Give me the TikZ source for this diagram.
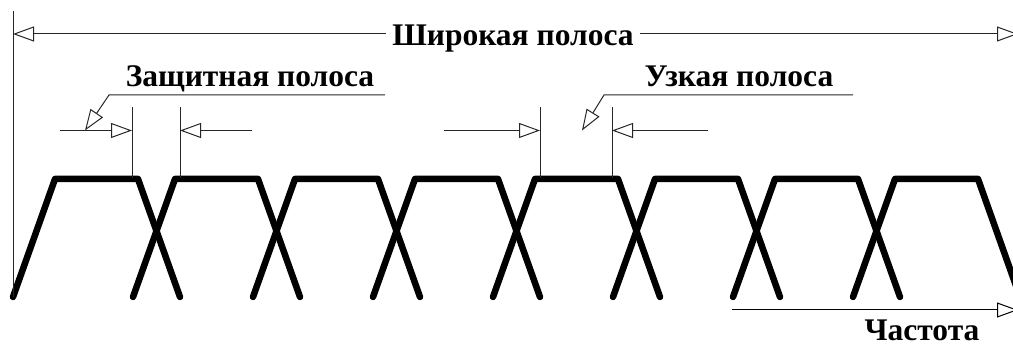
\documentclass[tikz,border=0pt]{standalone}
\usepackage{fontspec}
\setmainfont{Liberation Serif}
\usetikzlibrary{arrows.meta}
\tikzset{
  thin line/.style={line width=1pt, draw=black!85},
  dim/.style={thin line, -{Triangle[open, length=21pt, width=15pt, line width=1pt]}},
  dimboth/.style={thin line, {Triangle[open, length=21pt, width=15pt, line width=1pt]}-{Triangle[open, length=21pt, width=15pt, line width=1pt]}},
  trap/.style={line width=6.5pt, line cap=round, line join=round, draw=black},
  lbl/.style={font=\fontsize{31.5}{35}\selectfont\bfseries, inner sep=0pt, anchor=base},
}
\begin{document}
\begin{tikzpicture}[x=1pt, y=-1pt]
\useasboundingbox (0,0) rectangle (1013,347);
\clip (0,0) rectangle (1013,347);
% trapezoids
\foreach \i in {0,...,7} {
  \draw[trap] (13+120*\i,297) -- (55+120*\i,179) -- (138+120*\i,179) -- (180+120*\i,297);
}
% wide band
\coordinate (wl) at (13,34);
\coordinate (wr) at (1018,34);
\coordinate (vt) at (13,11);
\coordinate (vb) at (13,297);
\draw[thin line] (vt) -- (vb);
\draw[dimboth] (wl) -- (wr);
\node[lbl, fill=white, inner xsep=6pt, inner ysep=3pt] (wide) at (513,46) {Широкая полоса};
% guard band
\coordinate (g1t) at (132,107); \coordinate (g1b) at (132,178);
\coordinate (g2t) at (180,107); \coordinate (g2b) at (180,178);
\draw[thin line] (g1t) -- (g1b);
\draw[thin line] (g2t) -- (g2b);
\coordinate (g1a) at (60,130.5); \coordinate (g1e) at (132,130.5);
\coordinate (g2a) at (252,130.5); \coordinate (g2e) at (180,130.5);
\draw[dim] (g1a) -- (g1e);
\draw[dim] (g2a) -- (g2e);
\node[lbl] (guard) at (250,87) {Защитная полоса};
\coordinate (gu1) at (385,95); \coordinate (gu2) at (109,95); \coordinate (gtip) at (85,130.5);
\draw[dim] (gu1) -- (gu2) -- (gtip);
% narrow band
\coordinate (n1t) at (540,107); \coordinate (n1b) at (540,178);
\coordinate (n2t) at (612,107); \coordinate (n2b) at (612,178);
\draw[thin line] (n1t) -- (n1b);
\draw[thin line] (n2t) -- (n2b);
\coordinate (n1a) at (444,130.5); \coordinate (n1e) at (540,130.5);
\coordinate (n2a) at (708,130.5); \coordinate (n2e) at (612,130.5);
\draw[dim] (n1a) -- (n1e);
\draw[dim] (n2a) -- (n2e);
\node[lbl] (narrow) at (739,87) {Узкая полоса};
\coordinate (nu1) at (853,95); \coordinate (nu2) at (604,95); \coordinate (ntip) at (582,130.5);
\draw[dim] (nu1) -- (nu2) -- (ntip);
% frequency axis
\coordinate (fa) at (732,310); \coordinate (fb) at (1018,310);
\draw[dim, draw=black] (fa) -- (fb);
\node[lbl] (freq) at (922,341) {Частота};
\end{tikzpicture}
\end{document}
